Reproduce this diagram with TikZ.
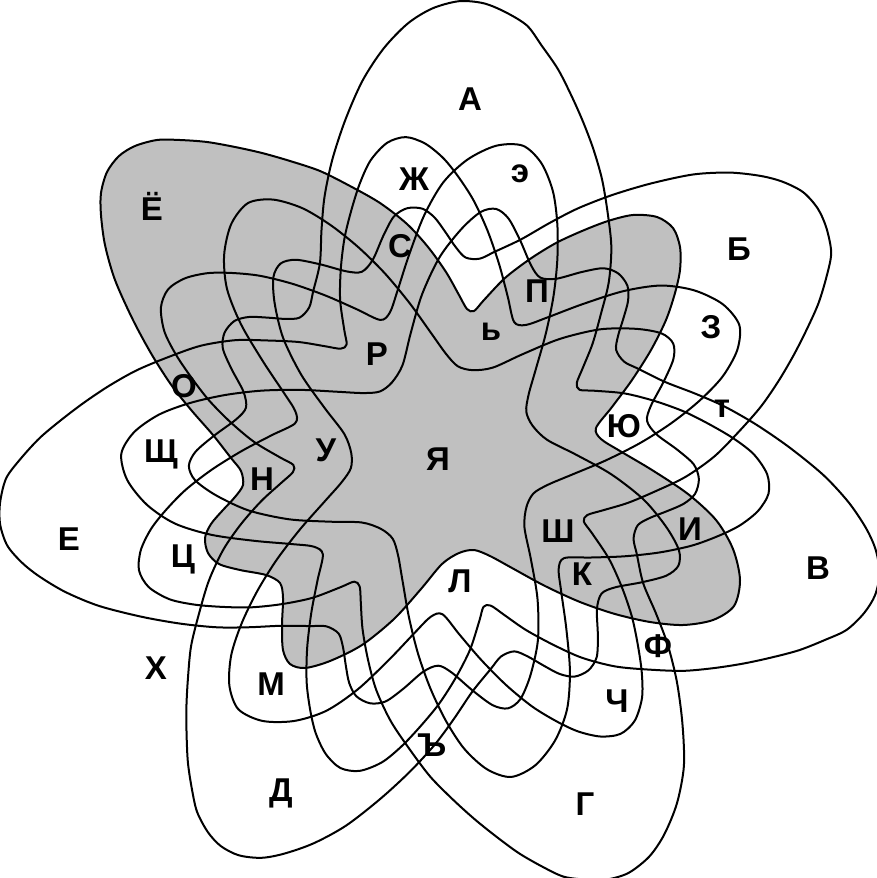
\documentclass[tikz,border=0pt]{standalone}
\usepackage{fontspec}
\setmainfont{Liberation Sans}
\definecolor{greyfill}{RGB}{192,192,192}
\tikzset{
  lbl/.style={font=\fontsize{33}{33}\selectfont\bfseries, inner sep=0pt, anchor=base},
  setline/.style={draw=black, line width=2pt, line join=round}
}
% one set's boundary; #2 widens the upper flank of the petal,
% #3 the lower flank, #4 the petal tip (0 = shaded set as traced)
\newcommand\setcurve[4]{%
  \path[#1] plot[smooth cycle, tension=0.5] coordinates {
  ({101-8*#3-9*#4},{215+#3})
  ({101-6*#3-10*#4},{193-#3-5*#4})
  ({107-2*#2-3*#3-8*#4},{172-1*#2-2*#3-8*#4})
  ({119-2*#2-#3-6*#4},{156-4*#2-#3-10*#4})
  ({135-1*#2-3*#4},{146-8*#2-9*#4})
  ({157-#4},{140-13*#2-4*#4})
  ({180+#2},{140-14*#2}) ({207+3*#2},{142-14*#2}) ({235+4*#2},{147-13*#2})
  ({262+4*#2},{153-12*#2}) ({290+4*#2},{161-11*#2}) ({320+3*#2},{171-9*#2})
  ({350+2*#2},{186-8*#2}) ({380+2*#2},{203-6*#2}) ({407+#2},{224-3*#2}) (428,247)
  (446,272) (459,295) (467,309) (474,311) (484,300) (505,278) (530,259) (556,243)
  (582,231) (608,221) (633,215) (657,217) (673,228) (680,247) (680,270) (675,293)
  (666,320) (651,350) (632,380) (612,407) (596,428) (601,439) (620,451) (652,470)
  (688,494) (716,520) (733,549) (740,580) (734,606) (713,620) (683,625) (650,622)
  (615,614) (580,602) (545,586) (512,568) (490,556) (474,550) (459,553) (442,564)
  (421,589) (394,619) (362,645) (330,661) (305,668) (290,664) (283,650) (282,625)
  (283,598) (280,583) (266,575) (240,570) (219,564) (208,553) (205,538) (211,524)
  (223,510) (235,497) (243,485) (241,471) (231,458) (213,435)
  ({192-2*#3},{411+#3}) ({172-4*#3},{386+2*#3}) ({152-6*#3},{355+3*#3})
  ({133-8*#3},{320+3*#3}) ({115-9*#3},{280+4*#3}) ({105-9*#3-4*#4},{245+3*#3+#4})};}
\begin{document}
\begin{tikzpicture}[x=1pt,y=-1pt]
\fill[white] (0,0) rectangle (877,878);
\useasboundingbox (0,0) rectangle (877,878);
\setcurve{fill=greyfill}{0}{0}{0}
\setcurve{setline}{0}{0}{0}
\setcurve{setline, rotate around={360/7:(445,460)}}{0.9}{0}{0}
\setcurve{setline, rotate around={720/7:(445,460)}}{0}{0.5}{0}
\setcurve{setline, rotate around={1080/7:(445,460)}}{0.3}{2}{0}
\setcurve{setline, rotate around={1440/7:(445,460)}}{0.5}{0.5}{0.2}
\setcurve{setline, rotate around={1800/7:(445,460)}}{0.8}{0.4}{0}
\setcurve{setline, rotate around={2160/7:(445,460)}}{1}{2}{0.5}
\node[lbl] (lA)  at (470,110) {А};
\node[lbl] (lE2) at (520,182) {э};
\node[lbl] (lZh) at (414,190) {Ж};
\node[lbl] (lB)  at (739,260) {Б};
\node[lbl] (lYo) at (152,220) {Ё};
\node[lbl] (lS)  at (400,257) {С};
\node[lbl] (lP)  at (537,302) {П};
\node[lbl] (lSoft) at (491,340) {ь};
\node[lbl] (lR)  at (377,365) {Р};
\node[lbl] (lZ)  at (711,338) {З};
\node[lbl] (lO)  at (184,397) {О};
\node[lbl] (lYu) at (624,437) {Ю};
\node[lbl] (lT)  at (722,417) {т};
\node[lbl] (lShch) at (161,462) {Щ};
\node[lbl] (lU)  at (326,461) {У};
\node[lbl] (lYa) at (438,470) {Я};
\node[lbl] (lN)  at (262,490) {Н};
\node[lbl] (lE)  at (69,550) {Е};
\node[lbl] (lSh) at (558,542) {Ш};
\node[lbl] (lI)  at (690,540) {И};
\node[lbl] (lTs) at (183,567) {Ц};
\node[lbl] (lK)  at (582,585) {К};
\node[lbl] (lL)  at (460,592) {Л};
\node[lbl] (lV)  at (818,579) {В};
\node[lbl] (lF)  at (658,657) {Ф};
\node[lbl] (lKh) at (156,679) {Х};
\node[lbl] (lM)  at (271,695) {М};
\node[lbl] (lCh) at (617,712) {Ч};
\node[lbl] (lHard) at (432,756) {Ъ};
\node[lbl] (lD)  at (281,801) {Д};
\node[lbl] (lG)  at (585,815) {Г};
\end{tikzpicture}
\end{document}
